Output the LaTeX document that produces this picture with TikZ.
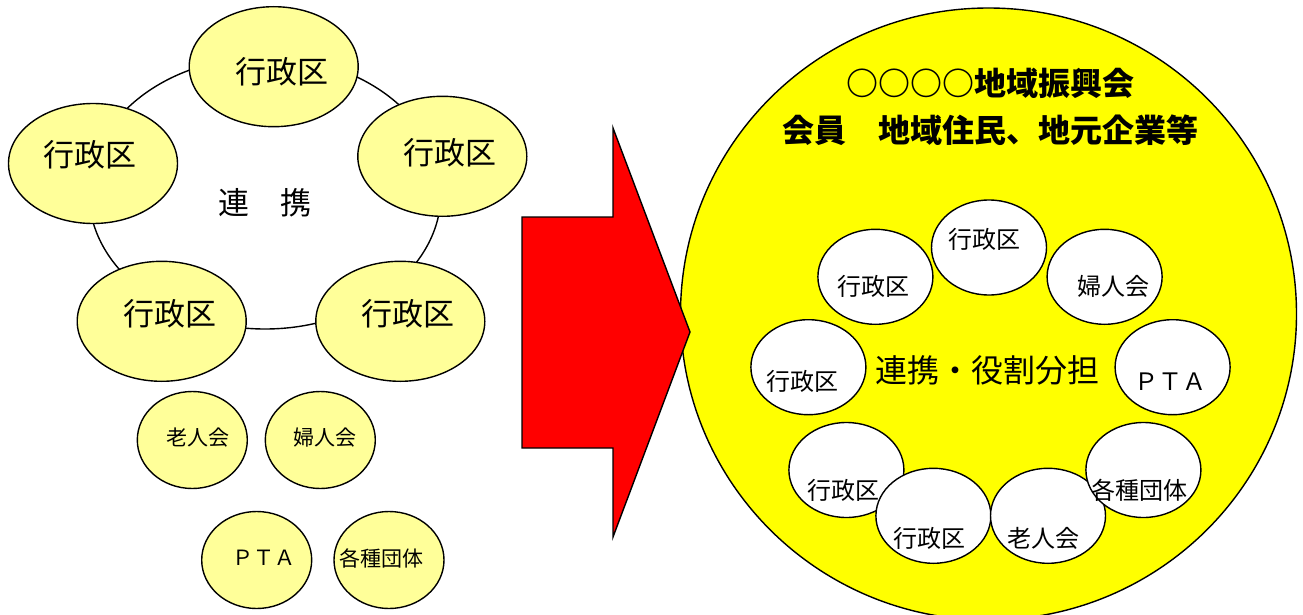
\documentclass[tikz,border=0pt]{standalone}
\usepackage{fontspec}
\setmainfont{Noto Sans CJK JP}
\usetikzlibrary{shapes.geometric}
\definecolor{lightyel}{HTML}{FFFF99}
\definecolor{brightyel}{HTML}{FFFF00}
\begin{document}
\begin{tikzpicture}[x=1pt,y=-1pt,
  yel/.style={ellipse, draw=black, line width=1.4pt, fill=lightyel, inner sep=0pt},
  bigyel/.style={yel, minimum width=169pt, minimum height=120pt},
  smallyel/.style={yel, minimum width=110pt, minimum height=97pt},
  wc/.style={ellipse, draw=black, line width=1.4pt, fill=white, minimum width=115pt, minimum height=95pt, inner sep=0pt},
  lblL/.style={inner sep=0pt, font=\fontsize{31}{31}\selectfont},
  lblS/.style={inner sep=0pt, font=\fontsize{21}{21}\selectfont},
  lblR/.style={inner sep=0pt, font=\fontsize{24}{24}\selectfont},
  title/.style={inner sep=0pt, font=\fontsize{32}{32}\selectfont\bfseries}
]
\useasboundingbox (0,0) rectangle (1303,615);

% left: ring of cooperation
\draw[line width=1.4pt] (265,193) ellipse [x radius=176pt, y radius=136pt];
\node[lblL] (renkei) at (265,203) {連　携};

\node[bigyel] (g1) at (273.7,66.7) {};
\node[lblL] (g1t) at (281.7,71.7) {行政区};
\node[bigyel] (g2) at (93,163.5) {};
\node[lblL] (g2t) at (90,155) {行政区};
\node[bigyel] (g3) at (442.3,156.3) {};
\node[lblL] (g3t) at (450,153) {行政区};
\node[bigyel] (g4) at (161.7,321.3) {};
\node[lblL] (g4t) at (169.7,313.3) {行政区};
\node[bigyel] (g5) at (400.3,321.3) {};
\node[lblL] (g5t) at (408,313.3) {行政区};

\node[smallyel] (s1) at (192.3,440) {};
\node[lblS] (s1t) at (198,438) {老人会};
\node[smallyel] (s2) at (320.3,440) {};
\node[lblS] (s2t) at (325,438) {婦人会};
\node[smallyel] (s3) at (256.7,560) {};
\node[lblS] (s3t) at (264,558) {ＰＴＡ};
\node[smallyel] (s4) at (389,560) {};
\node[lblS] (s4t) at (381.7,558) {各種団体};

% right: big circle
\node[ellipse, draw=black, line width=1.4pt, fill=brightyel, inner sep=0pt,
      minimum width=616pt, minimum height=612pt] (org) at (988.5,314) {};
\node[title] (t1) at (990.5,83.3) {○○○○地域振興会};
\node[title] (t2) at (990,130) {会員　地域住民、地元企業等};

\node[wc] (w1) at (989,247.5) {};
\node[lblR] (w1t) at (984,239) {行政区};
\node[wc] (w2) at (875.4,276.8) {};
\node[lblR] (w2t) at (873.6,286.7) {行政区};
\node[wc] (w3) at (1104.6,276.8) {};
\node[lblR] (w3t) at (1113,286.7) {婦人会};
\node[wc] (w4) at (808.4,367.2) {};
\node[lblR] (w4t) at (802.4,381.7) {行政区};
\node[wc] (w5) at (1172.6,367.2) {};
\node[lblR] (w5t) at (1170.6,382) {ＰＴＡ};
\node[wc] (w6) at (846.4,470) {};
\node[lblR] (w6t) at (843.8,490) {行政区};
\node[wc] (w7) at (933.4,515.8) {};
\node[lblR] (w7t) at (929.4,538.3) {行政区};
\node[wc] (w8) at (1048,515.8) {};
\node[lblR] (w8t) at (1043,538.3) {老人会};
\node[wc] (w9) at (1143.4,470) {};
\node[lblR] (w9t) at (1139.6,490) {各種団体};

\node[inner sep=0pt, font=\fontsize{32}{32}\selectfont] (yakuwari) at (987.6,370) {連携・役割分担};

% red block arrow
\draw[line width=1.4pt, fill=red, line join=miter]
  (522,217) -- (613,217) -- (613,128) -- (690,332) -- (613,537) -- (613,448) -- (522,448) -- cycle;
\end{tikzpicture}
\end{document}
